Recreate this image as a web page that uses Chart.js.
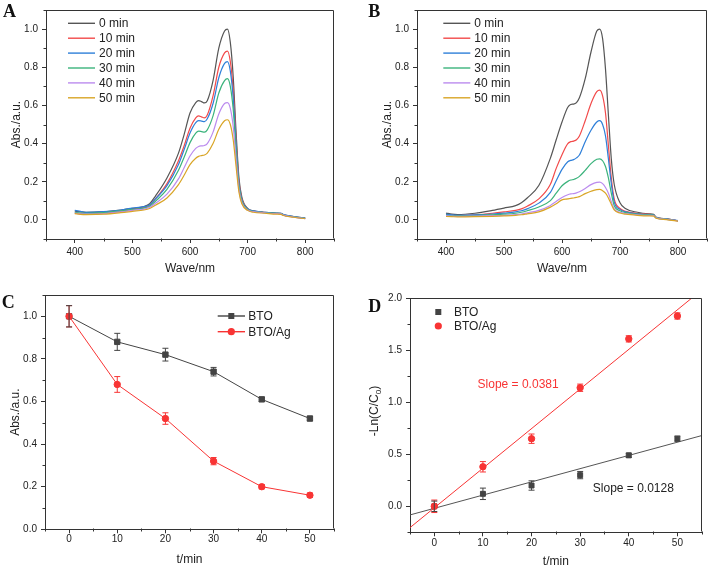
<!DOCTYPE html>
<html><head><meta charset="utf-8">
<script src="https://cdn.jsdelivr.net/npm/chart.js@4.4.1/dist/chart.umd.min.js"></script>
<style>
html,body{margin:0;padding:0;background:#fff}
body{width:709px;height:569px;position:relative;overflow:hidden}
canvas{position:absolute}
</style></head><body>
<canvas id="cA" style="left:0;top:0" width="355" height="285"></canvas>
<canvas id="cB" style="left:355px;top:0" width="354" height="285"></canvas>
<canvas id="cC" style="left:0;top:285px" width="355" height="284"></canvas>
<canvas id="cD" style="left:355px;top:285px" width="354" height="284"></canvas>
<script>
// ---------- DATA ----------
const seriesLabels = ['0 min','10 min','20 min','30 min','40 min','50 min'];
const wl = [400,410,420,450,480,500,520,530,540,560,580,590,600,610,615,620,625,630,640,650,660,665,670,675,680,685,690,700,710,730,750,758,762,780,800];

// Panel A (BTO)
const absA0 = [.046,.042,.040,.043,.052,.060,.070,.085,.125,.22,.35,.45,.56,.615,.625,.62,.613,.625,.73,.90,.99,1.0,.93,.75,.46,.22,.12,.06,.048,.04,.035,.034,.028,.018,.01];
const absA10 = [.036,.032,.030,.035,.045,.055,.065,.078,.11,.19,.31,.39,.48,.535,.545,.54,.535,.55,.65,.80,.875,.885,.83,.68,.42,.20,.11,.058,.046,.039,.034,.033,.026,.016,.008];
const absA20 = [.05,.045,.04,.043,.052,.062,.07,.08,.11,.18,.29,.37,.455,.51,.52,.518,.515,.53,.61,.745,.82,.83,.78,.64,.40,.19,.105,.058,.047,.04,.036,.035,.028,.018,.01];
const absA30 = [.04,.036,.035,.038,.047,.055,.062,.072,.098,.16,.26,.33,.405,.455,.465,.463,.46,.472,.545,.665,.73,.74,.70,.58,.37,.18,.10,.055,.045,.038,.034,.033,.026,.016,.008];
const absA40 = [.036,.032,.03,.033,.042,.05,.057,.066,.087,.135,.215,.275,.335,.375,.385,.388,.39,.40,.46,.555,.61,.615,.585,.49,.32,.16,.09,.052,.043,.037,.033,.032,.025,.015,.007];
const absA50 = [.033,.029,.028,.03,.038,.045,.052,.06,.077,.115,.185,.235,.29,.323,.333,.337,.34,.35,.40,.475,.52,.525,.50,.42,.28,.145,.085,.05,.04,.035,.03,.029,.023,.014,.006];

// Panel B (BTO/Ag)
const absB0 = [.036,.03,.028,.035,.05,.062,.075,.09,.115,.18,.324,.42,.513,.59,.605,.607,.615,.64,.74,.88,.99,1.0,.95,.79,.55,.32,.187,.09,.058,.04,.032,.029,.015,.006,-.004];
const absB10 = [.027,.024,.023,.027,.035,.042,.05,.058,.072,.11,.187,.27,.342,.40,.41,.413,.42,.44,.52,.61,.672,.68,.65,.56,.39,.22,.11,.06,.045,.034,.029,.027,.013,.005,-.005];
const absB20 = [.03,.026,.024,.026,.031,.036,.042,.048,.058,.088,.144,.205,.265,.305,.312,.316,.325,.34,.41,.47,.513,.52,.50,.44,.32,.19,.095,.055,.042,.032,.028,.026,.013,.005,-.004];
const absB30 = [.025,.022,.021,.023,.027,.03,.035,.04,.048,.068,.101,.14,.179,.202,.209,.212,.218,.228,.26,.295,.318,.32,.31,.28,.22,.14,.075,.048,.038,.03,.026,.025,.012,.004,-.005];
const absB40 = [.022,.02,.019,.02,.022,.024,.028,.031,.037,.05,.076,.097,.118,.132,.136,.138,.142,.148,.165,.185,.197,.198,.19,.17,.14,.095,.058,.04,.033,.027,.024,.023,.011,.003,-.006];
const absB50 = [.018,.017,.016,.017,.019,.021,.024,.027,.032,.042,.067,.085,.105,.11,.113,.115,.118,.122,.138,.15,.159,.16,.153,.14,.115,.082,.052,.036,.03,.024,.021,.02,.009,.002,-.007];

// Panel C
const tC = [0,10,20,30,40,50];
const cBTO = [1.0,0.88,0.82,0.74,0.61,0.52];
const cBTOerr = [0.05,0.04,0.03,0.02,0.01,0.01];
const cAg = [1.0,0.68,0.52,0.32,0.20,0.16];
const cAgerr = [0.05,0.037,0.027,0.017,0.01,0.01];
const cLabels = ['BTO','BTO/Ag'];

// Panel D
const tD = [0,10,20,30,40,50];
const dBTO = [0.0,0.12,0.20,0.30,0.49,0.65];
const dBTOerr = [0.05,0.055,0.045,0.035,0.02,0.025];
const dAg = [0.0,0.38,0.65,1.14,1.61,1.83];
const dAgerr = [0.06,0.05,0.045,0.035,0.03,0.03];
const fitX = [-5,55];
const fitBTO = [-0.083,0.68];
const fitAg = [-0.205,2.08];
const slopeTexts = ['Slope = 0.0381','Slope = 0.0128'];

// ticks
const wlMajor = [400,500,600,700,800], wlMinor = [350,450,550,650,750,850];
const absMajor = [0,0.2,0.4,0.6,0.8,1.0], absMinor = [-0.1,0.1,0.3,0.5,0.7,0.9,1.1];
const tMajor = [0,10,20,30,40,50], tMinor = [-5,5,15,25,35,45,55];
const cyMajor = [0,0.2,0.4,0.6,0.8,1.0], cyMinor = [0.1,0.3,0.5,0.7,0.9,1.1];
const dyMajor = [0,0.5,1.0,1.5,2.0], dyMinor = [-0.25,0.25,0.75,1.25,1.75];

// ---------- STYLE ----------
const FONT = "'Liberation Sans', Arial, Helvetica, sans-serif";
const AX = '#333';
const TXT = '#222';
const specColors = ['#555555','#f24a4a','#2e7fd9','#3bb37c','#bb8bee','#d9a526'];
const GRAY = '#444444', RED = '#f83434';
Chart.defaults.font.family = FONT;
Chart.defaults.animation = false;

const extra = {
  id: 'extra',
  afterDraw(chart, args, o) {
    const ctx = chart.ctx, ca = chart.chartArea;
    const xs = chart.scales.x, ys = chart.scales.y;
    ctx.save();
    // frame top & right
    ctx.strokeStyle = AX; ctx.lineWidth = 1;
    ctx.beginPath();
    const L = Math.round(ca.left)+0.5, T = Math.round(ca.top)+0.5, R = Math.round(ca.right)-0.5, B = Math.round(ca.bottom)-0.5;
    ctx.moveTo(L, T); ctx.lineTo(R, T); ctx.lineTo(R, B); ctx.stroke();
    // minor ticks
    ctx.beginPath();
    (o.minorX||[]).forEach(v => { const p = Math.round(xs.getPixelForValue(v))+0.5; ctx.moveTo(p, B); ctx.lineTo(p, B+3); });
    (o.minorY||[]).forEach(v => { const p = Math.round(ys.getPixelForValue(v))+0.5; ctx.moveTo(L, p); ctx.lineTo(L-3, p); });
    ctx.stroke();
    // error bars
    chart.data.datasets.forEach((ds, di) => {
      if (!ds.errorBars) return;
      ctx.strokeStyle = ds.errColor || ds.borderColor; ctx.lineWidth = 1;
      ctx.beginPath();
      ds.data.forEach((pt, i) => {
        const e = ds.errorBars[i];
        const px = xs.getPixelForValue(pt.x);
        const y1 = ys.getPixelForValue(pt.y + e), y2 = ys.getPixelForValue(pt.y - e);
        ctx.moveTo(px, y1); ctx.lineTo(px, y2);
        ctx.moveTo(px-3, y1); ctx.lineTo(px+3, y1);
        ctx.moveTo(px-3, y2); ctx.lineTo(px+3, y2);
      });
      ctx.stroke();
    });
    // legend
    if (o.legend) {
      const lg = o.legend;
      ctx.font = '12px ' + FONT; ctx.textBaseline = 'middle'; ctx.textAlign = 'left';
      lg.items.forEach((it, i) => {
        const y = lg.y0 + i*lg.dy;
        if (lg.line) {
          ctx.strokeStyle = it.color; ctx.lineWidth = 1.4;
          ctx.beginPath(); ctx.moveTo(lg.x0, y); ctx.lineTo(lg.x1, y); ctx.stroke();
        }
        if (it.marker) {
          ctx.fillStyle = it.color;
          if (it.marker === 'rect') ctx.fillRect(lg.mx-3, y-3, 6, 6);
          else { ctx.beginPath(); ctx.arc(lg.mx, y, 3.6, 0, Math.PI*2); ctx.fill(); }
        }
        ctx.fillStyle = TXT;
        ctx.fillText(it.label, lg.tx, y+0.5);
      });
    }
    // annotations
    (o.notes||[]).forEach(n => {
      ctx.font = '12px ' + FONT; ctx.textBaseline = 'middle'; ctx.textAlign = 'left';
      ctx.fillStyle = n.color;
      ctx.fillText(n.text, xs.getPixelForValue(n.x), ys.getPixelForValue(n.y));
    });
    // y title with subscript
    if (o.ytitle) {
      const t = o.ytitle;
      ctx.save();
      ctx.translate(t.x, t.y); ctx.rotate(-Math.PI/2);
      ctx.fillStyle = TXT; ctx.textBaseline = 'middle'; ctx.textAlign = 'left';
      ctx.font = '12px ' + FONT; const w1 = ctx.measureText(t.main).width; const w3 = ctx.measureText(t.end).width;
      ctx.font = '8px ' + FONT; const w2 = ctx.measureText(t.sub).width;
      let x = -(w1+w2+w3)/2;
      ctx.font = '12px ' + FONT; ctx.fillText(t.main, x, 0); x += w1;
      ctx.font = '8px ' + FONT; ctx.fillText(t.sub, x, 4); x += w2;
      ctx.font = '12px ' + FONT; ctx.fillText(t.end, x, 0);
      ctx.restore();
    }
    // panel letter
    if (o.letter) {
      ctx.font = 'bold 18px "Liberation Serif", "Times New Roman", serif';
      ctx.fillStyle = '#111'; ctx.textBaseline = 'alphabetic'; ctx.textAlign = 'left';
      ctx.fillText(o.letter.t, o.letter.x, o.letter.y);
    }
    ctx.restore();
  }
};

function axis(opts) {
  const a = {
    type: 'linear', min: opts.min, max: opts.max,
    afterBuildTicks: s => { s.ticks = opts.major.map(v => ({value: v})); },
    grid: { display: true, drawOnChartArea: false, drawTicks: true, tickLength: 4, color: AX, tickColor: AX, lineWidth: 1 },
    border: { display: true, color: AX, width: 1 },
    ticks: { font: { size: 10 }, color: TXT, padding: opts.tpad, maxRotation: 0, autoSkip: false,
             callback: opts.fmt },
    title: { display: !!opts.title, text: opts.title || '', font: { size: 12 }, color: TXT, padding: opts.titlePad }
  };
  if (opts.size !== undefined) {
    if (opts.horiz) a.afterFit = s => { s.height = opts.size; };
    else a.afterFit = s => { s.width = opts.size; };
  }
  return a;
}
const f1 = v => v.toFixed(1);
const f0 = v => String(Math.round(v));

function specChart(id, arrays, leftW, rightPad, ytitlePad, legendX, letter) {
  const datasets = arrays.map((ys, k) => ({
    label: seriesLabels[k],
    data: wl.map((x, i) => ({x, y: ys[i]})),
    borderColor: specColors[k], borderWidth: 1.2, pointRadius: 0,
    cubicInterpolationMode: 'monotone', fill: false, order: 6-k
  }));
  return new Chart(document.getElementById(id), {
    type: 'line',
    data: { datasets },
    options: {
      responsive: false, animation: false,
      layout: { padding: { top: 5, right: rightPad, left: 0, bottom: 0 } },
      plugins: { legend: { display: false }, tooltip: { enabled: false },
        extra: { minorX: wlMinor, minorY: absMinor,
          legend: { line: true, x0: legendX, x1: legendX + 27, tx: legendX + 31, y0: 23.3, dy: 14.9,
                    items: seriesLabels.map((l, k) => ({label: l, color: specColors[k]})) },
          letter } },
      scales: {
        x: axis({min: 350, max: 850, major: wlMajor, fmt: f0, tpad: 3, title: 'Wave/nm', titlePad: {top: 0, bottom: 8.8}, size: 46, horiz: true}),
        y: axis({min: -0.1, max: 1.1, major: absMajor, fmt: f1, tpad: 4, title: 'Abs./a.u.', titlePad: {top: ytitlePad, bottom: 0}, size: leftW})
      }
    },
    plugins: [extra]
  });
}

specChart('cA', [absA0, absA10, absA20, absA30, absA40, absA50], 46, 21, 9.5, 68, {t: 'A', x: 3, y: 16.7});
specChart('cB', [absB0, absB10, absB20, absB30, absB40, absB50], 62, 2, 25, 88.3, {t: 'B', x: 13.3, y: 16.7});

// Panel C
new Chart(document.getElementById('cC'), {
  type: 'scatter',
  data: { datasets: [
    { label: cLabels[1], data: tC.map((x, i) => ({x, y: cAg[i]})), errorBars: cAgerr, showLine: true,
      borderColor: RED, backgroundColor: RED, borderWidth: 1, pointStyle: 'circle', pointRadius: 3.2, order: 1 },
    { label: cLabels[0], data: tC.map((x, i) => ({x, y: cBTO[i]})), errorBars: cBTOerr, showLine: true,
      borderColor: GRAY, backgroundColor: GRAY, borderWidth: 1, pointStyle: 'rect', pointRadius: 3.8, order: 2 }
  ]},
  options: {
    responsive: false, animation: false,
    layout: { padding: { top: 10, right: 21, left: 0, bottom: 0 } },
    plugins: { legend: { display: false }, tooltip: { enabled: false },
      extra: { minorX: tMinor, minorY: cyMinor,
        legend: { line: true, x0: 217.7, x1: 245, mx: 231.3, tx: 248.3, y0: 31, dy: 15.7,
          items: [{label: cLabels[0], color: GRAY, marker: 'rect'}, {label: cLabels[1], color: RED, marker: 'circle'}] },
        letter: {t: 'C', x: 1.7, y: 23.3} } },
    scales: {
      x: axis({min: -5, max: 55, major: tMajor, fmt: f0, tpad: 0, title: 't/min', titlePad: {top: 0, bottom: 1.8}, size: 39.7, horiz: true}),
      y: axis({min: 0, max: 1.1, major: cyMajor, fmt: f1, tpad: 4, title: 'Abs./a.u.', titlePad: {top: 8.8, bottom: 0}, size: 45})
    }
  },
  plugins: [extra]
});

// Panel D
new Chart(document.getElementById('cD'), {
  type: 'scatter',
  data: { datasets: [
    { label: cLabels[1], data: tD.map((x, i) => ({x, y: dAg[i]})), errorBars: dAgerr,
      borderColor: RED, backgroundColor: RED, borderWidth: 1, pointStyle: 'circle', pointRadius: 3.2, order: 1 },
    { label: cLabels[0], data: tD.map((x, i) => ({x, y: dBTO[i]})), errorBars: dBTOerr,
      borderColor: GRAY, backgroundColor: GRAY, borderWidth: 1, pointStyle: 'rect', pointRadius: 3.5, order: 2 },
    { label: 'fit Ag', data: fitX.map((x, i) => ({x, y: fitAg[i]})), showLine: true, pointRadius: 0,
      borderColor: RED, borderWidth: 1, clip: 0, order: 3 },
    { label: 'fit BTO', data: fitX.map((x, i) => ({x, y: fitBTO[i]})), showLine: true, pointRadius: 0,
      borderColor: '#555', borderWidth: 1, clip: 0, order: 4 }
  ]},
  options: {
    responsive: false, animation: false,
    layout: { padding: { top: 13.3, right: 7.3, left: 0, bottom: 0 } },
    plugins: { legend: { display: false }, tooltip: { enabled: false },
      extra: { minorX: tMinor, minorY: dyMinor,
        legend: { line: false, mx: 83.3, tx: 99, y0: 27, dy: 14,
          items: [{label: cLabels[0], color: GRAY, marker: 'rect'}, {label: cLabels[1], color: RED, marker: 'circle'}] },
        notes: [{text: slopeTexts[0], x: 8.9, y: 1.166, color: RED}, {text: slopeTexts[1], x: 32.6, y: 0.166, color: TXT}],
        ytitle: {x: 20, y: 126, main: '-Ln(C/C', sub: '0', end: ')'},
        letter: {t: 'D', x: 13.3, y: 26.7} } },
    scales: {
      x: axis({min: -5, max: 55, major: tMajor, fmt: f0, tpad: 1, title: 't/min', titlePad: {top: 0, bottom: 0.1}, size: 36.7, horiz: true}),
      y: axis({min: -0.25, max: 2.0, major: dyMajor, fmt: f1, tpad: 4, title: '', size: 55})
    }
  },
  plugins: [extra]
});
</script>
</body></html>
